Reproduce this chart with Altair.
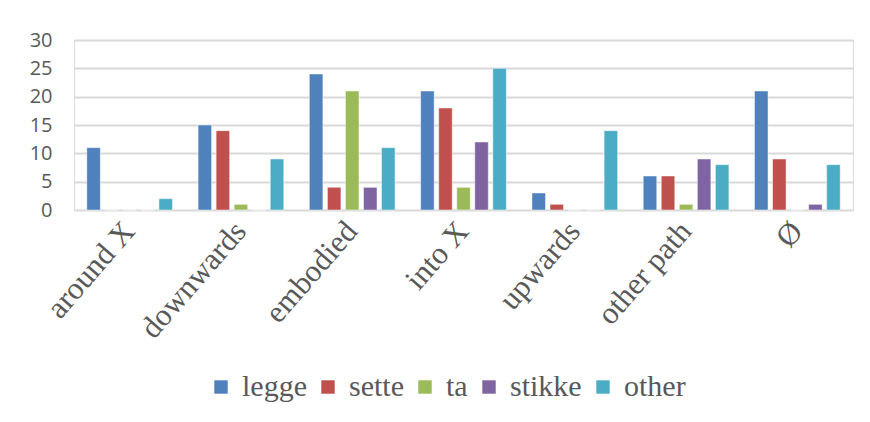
import altair as alt
import pandas as pd

categories = ["around X", "downwards", "embodied", "into X", "upwards", "other path", "Ø"]
series = ["legge", "sette", "ta", "stikke", "other"]
legge = [11, 15, 24, 21, 3, 6, 21]
sette = [0, 14, 4, 18, 1, 6, 9]
ta = [0, 1, 21, 4, 0, 1, 0]
stikke = [0, 0, 4, 12, 0, 9, 1]
other = [2, 9, 11, 25, 14, 8, 8]
colors = ["#4F81BD", "#C0504D", "#9BBB59", "#8064A2", "#4BACC6"]

rows = []
for s, vals in zip(series, [legge, sette, ta, stikke, other]):
    for c, v in zip(categories, vals):
        rows.append({"category": c, "series": s, "value": v})
df = pd.DataFrame(rows)

chart = alt.Chart(df).mark_bar(stroke="white", strokeWidth=0.8, strokeOpacity=0.6).encode(
    x=alt.X("category:N", sort=categories,
            scale=alt.Scale(paddingInner=0.23, paddingOuter=0.115),
            axis=alt.Axis(title=None, labelAngle=311, labelFont="Liberation Serif",
                          labelFontSize=31, labelColor="#595959", labelAlign="right",
                          labelBaseline="middle", labelPadding=16, ticks=False,
                          domain=False, labelOverlap=False)),
    xOffset=alt.XOffset("series:N", sort=series, scale=alt.Scale(paddingInner=0.25)),
    y=alt.Y("value:Q", scale=alt.Scale(domain=[0, 30]),
            axis=alt.Axis(title=None, values=[0, 5, 10, 15, 20, 25, 30], grid=True,
                          gridColor="#d9d9d9", gridWidth=1.8, domain=False, ticks=False,
                          labelFont="Open Sans", labelFontSize=20,
                          labelColor="#595959", labelPadding=22)),
    color=alt.Color("series:N", sort=series,
                    scale=alt.Scale(domain=series, range=colors),
                    legend=alt.Legend(title=None, orient="none", direction="horizontal",
                                      legendX=132, legendY=332, symbolType="square",
                                      symbolSize=180, symbolStrokeWidth=0,
                                      labelFont="Liberation Serif", labelFontSize=30,
                                      labelColor="#595959", columnPadding=6,
                                      labelOffset=6)),
).properties(
    width=779, height=170,
    autosize=alt.AutoSizeParams(type="none"),
    padding={"left": 74, "top": 40, "right": 17, "bottom": 212},
).configure_view(stroke=None).configure(background="white")

chart.save("out.html", embed_options={"renderer": "svg", "actions": False})
